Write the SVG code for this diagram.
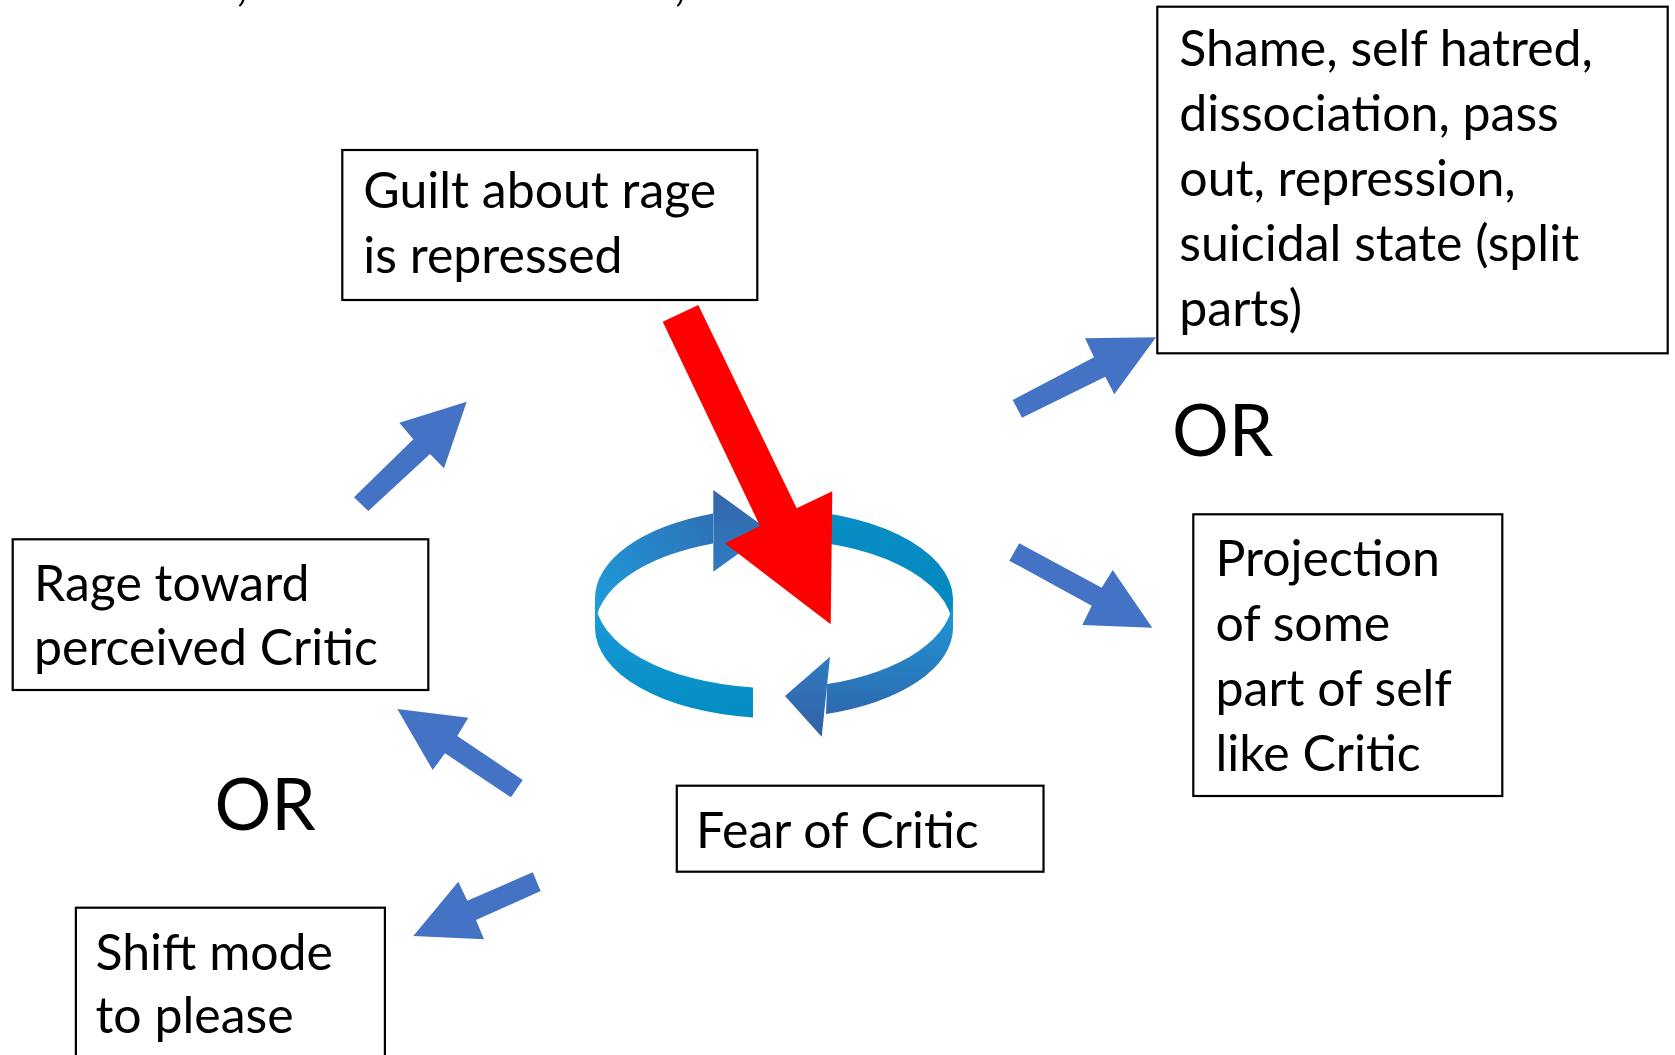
<svg xmlns="http://www.w3.org/2000/svg" width="1675" height="1055" viewBox="0 0 1675 1055">
<defs>
<style>
.box{fill:#fff;stroke:#000;stroke-width:2.2}
.t{font-family:Lato,"Liberation Sans",sans-serif;font-size:50px;fill:#000}
.or{font-family:Lato,"Liberation Sans",sans-serif;font-size:71px;fill:#000}
.ba{fill:#4472C4}
</style>
<linearGradient id="gBackL" gradientUnits="userSpaceOnUse" x1="600" y1="610" x2="715" y2="515">
<stop offset="0" stop-color="#1E9BDA"/><stop offset="1" stop-color="#2F70B6"/>
</linearGradient>
<linearGradient id="gFrontL" gradientUnits="userSpaceOnUse" x1="0" y1="605" x2="0" y2="710">
<stop offset="0" stop-color="#1E9ADA"/><stop offset="1" stop-color="#038DC3"/>
</linearGradient>
<linearGradient id="gBackR" gradientUnits="userSpaceOnUse" x1="0" y1="510" x2="0" y2="630">
<stop offset="0" stop-color="#078EC4"/><stop offset="1" stop-color="#0488BE"/>
</linearGradient>
<linearGradient id="gFrontR" gradientUnits="userSpaceOnUse" x1="0" y1="600" x2="0" y2="720">
<stop offset="0" stop-color="#1C9BDB"/><stop offset="1" stop-color="#3066AB"/>
</linearGradient>
<linearGradient id="gHeadTL" gradientUnits="userSpaceOnUse" x1="0" y1="490" x2="0" y2="572">
<stop offset="0" stop-color="#3565A8"/><stop offset="1" stop-color="#2E7CC2"/>
</linearGradient>
<linearGradient id="gHeadBR" gradientUnits="userSpaceOnUse" x1="0" y1="656" x2="0" y2="737">
<stop offset="0" stop-color="#2F7CC0"/><stop offset="1" stop-color="#3460A5"/>
</linearGradient>
</defs>
<rect width="1675" height="1055" fill="#fff"/>

<g id="title-fragment">
<text class="t" x="236" y="0">,</text>
<text class="t" x="674" y="0">,</text>
</g>

<g id="cycle">
<path fill="url(#gBackL)" d="M595,598 A179,90 0 0 1 713,513.4 L713,543.4 A179,90 0 0 0 595,628 Z"/>
<path fill="url(#gFrontL)" d="M595,598 A179,90 0 0 0 753,687.4 L753,717.4 A179,90 0 0 1 595,628 Z"/>
<polygon fill="url(#gHeadTL)" points="713.3,490 770,531 713.3,571.7"/>
<path fill="url(#gBackR)" d="M770,509.4 A179,90 0 0 1 953,598 L953,628 A179,90 0 0 0 770,539.4 Z"/>
<path fill="url(#gFrontR)" d="M953,598 A179,90 0 0 1 827,684 L826,714 A179,90 0 0 0 953,628 Z"/>
<polygon fill="url(#gHeadBR)" points="830,656.7 785,696 821.7,736.7"/>
</g>

<g id="connectors">
<polygon id="red-arrow" fill="#FF0000" points="662.7,321.7 698.3,305 796.7,508.3 832.3,491.3 830.7,624.3 725,543.3 760,526"/>
<polygon class="ba" points="354,497.3 413.3,439.3 399.3,422.7 466.7,401.7 444,468.3 430,454 368.3,511"/>
<polygon class="ba" points="1012.7,400 1094,357.3 1085,338.3 1156,337.3 1114.3,394.3 1105.3,376.7 1022,417.7"/>
<polygon class="ba" points="1019.3,543.3 1101.7,587.7 1112.7,570 1152.3,627.7 1082.3,625 1091.7,605.7 1009.3,560.7"/>
<polygon class="ba" points="522.7,780 457.3,736 468.3,717.7 397.3,709 432.7,770 445,753.3 511,797.3"/>
<polygon class="ba" points="532.7,872.3 467.3,900.7 458.3,881.7 413.3,936 484,939.3 476,920 540.7,891"/>
</g>

<g id="guilt">
<rect class="box" x="342.3" y="150" width="415" height="150"/>
<text class="t" x="363.3" y="208">Guilt about rage</text>
<text class="t" x="363.3" y="273">is repressed</text>
</g>

<g id="shame">
<rect class="box" x="1157.3" y="6.7" width="510.4" height="346.6"/>
<text class="t" x="1179.3" y="66">Shame, self hatred,</text>
<text class="t" x="1179.3" y="131">dissociation, pass</text>
<text class="t" x="1179.3" y="196">out, repression,</text>
<text class="t" x="1179.3" y="261">suicidal state (split</text>
<text class="t" x="1179.3" y="326">parts)</text>
</g>

<g id="rage">
<rect class="box" x="12.7" y="539.3" width="415.6" height="150.7"/>
<text class="t" x="34" y="601">Rage toward</text>
<text class="t" x="34" y="665">perceived Critic</text>
</g>

<g id="projection">
<rect class="box" x="1193.3" y="514.3" width="309" height="281.7"/>
<text class="t" x="1215.5" y="576">Projection</text>
<text class="t" x="1215.5" y="641">of some</text>
<text class="t" x="1215.5" y="706">part of self</text>
<text class="t" x="1215.5" y="771">like Critic</text>
</g>

<g id="fear">
<rect class="box" x="676.8" y="785.7" width="366.7" height="86"/>
<text class="t" x="696" y="847.5">Fear of Critic</text>
</g>

<g id="shift">
<rect class="box" x="75.9" y="907.7" width="309" height="200"/>
<text class="t" x="95.5" y="970">Shift mode</text>
<text class="t" x="95.5" y="1033">to please</text>
</g>

<g id="or-labels">
<text class="or" x="1172" y="456">OR</text>
<text class="or" x="214.5" y="830">OR</text>
</g>
</svg>
